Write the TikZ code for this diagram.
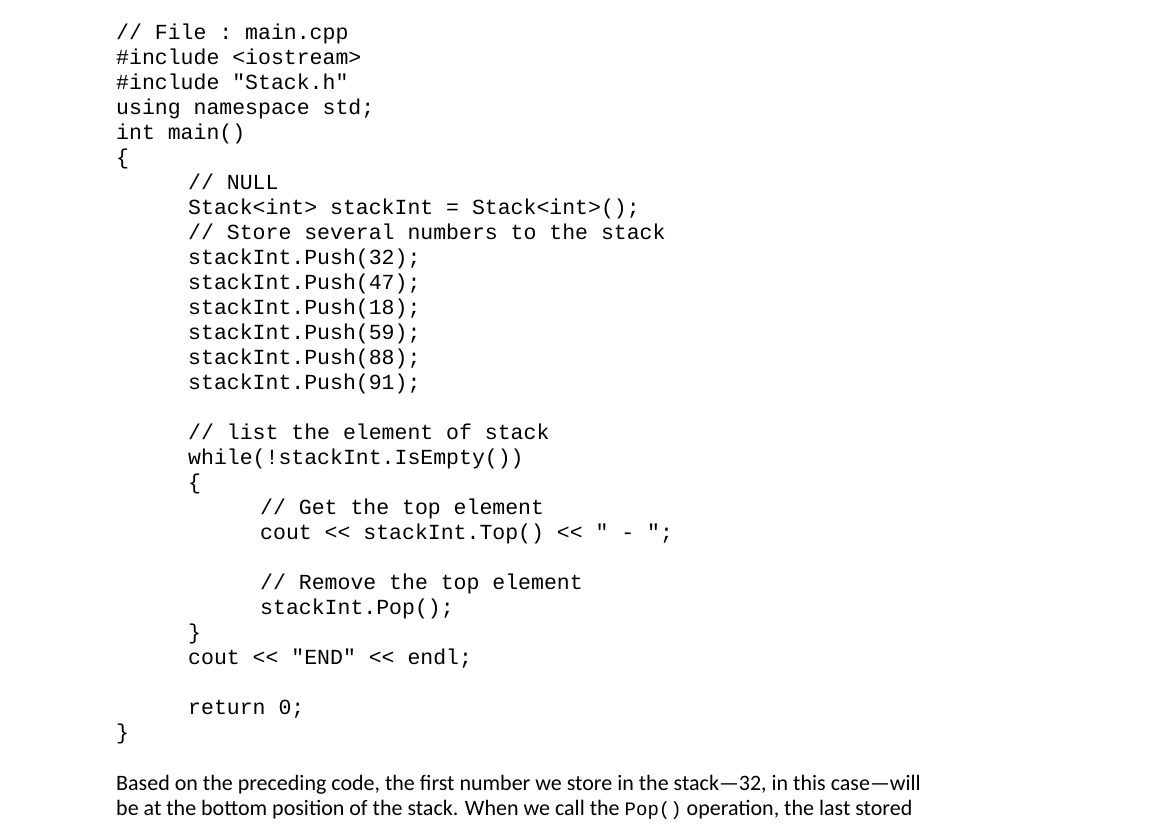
\documentclass[tikz,border=0pt]{standalone}
\usepackage{fontspec}
\setmainfont{Carlito}
\setmonofont{Liberation Mono}
\begin{document}
\begin{tikzpicture}[x=1pt,y=-1pt,
  code/.style={anchor=base west,inner sep=0pt,font=\fontsize{21.5}{24}\ttfamily},
  prose/.style={anchor=base west,inner sep=0pt,font=\fontsize{22}{24}\selectfont}]
\useasboundingbox (0,0) rectangle (1154,838);
\def\L#1#2#3{\node[code] (l#1) at (#2,{39+25*#1}) {#3};}
\L{0}{116}{// File : main.cpp}
\L{1}{116}{\#include <iostream>}
\L{2}{116}{\#include "Stack.h"}
\L{3}{116}{using namespace std;}
\L{4}{116}{int main()}
\L{5}{116}{\{}
\L{6}{188}{// NULL}
\L{7}{188}{Stack<int> stackInt = Stack<int>();}
\L{8}{188}{// Store several numbers to the stack}
\L{9}{188}{stackInt.Push(32);}
\L{10}{188}{stackInt.Push(47);}
\L{11}{188}{stackInt.Push(18);}
\L{12}{188}{stackInt.Push(59);}
\L{13}{188}{stackInt.Push(88);}
\L{14}{188}{stackInt.Push(91);}
\L{16}{188}{// list the element of stack}
\L{17}{188}{while(!stackInt.IsEmpty())}
\L{18}{188}{\{}
\L{19}{260}{// Get the top element}
\L{20}{260}{cout << stackInt.Top() << " - ";}
\L{22}{260}{// Remove the top element}
\L{23}{260}{stackInt.Pop();}
\L{24}{188}{\}}
\L{25}{188}{cout << "END" << endl;}
\L{27}{188}{return 0;}
\L{28}{116}{\}}
\node[prose] (p1) at (116,790) {Based on the preceding code, the first number we store in the stack---32, in this case---will};
\node[prose] (p2) at (116,815) {be at the bottom position of the stack. When we call the {\fontsize{19}{20}\ttfamily Pop()} operation, the last stored};
\end{tikzpicture}
\end{document}
